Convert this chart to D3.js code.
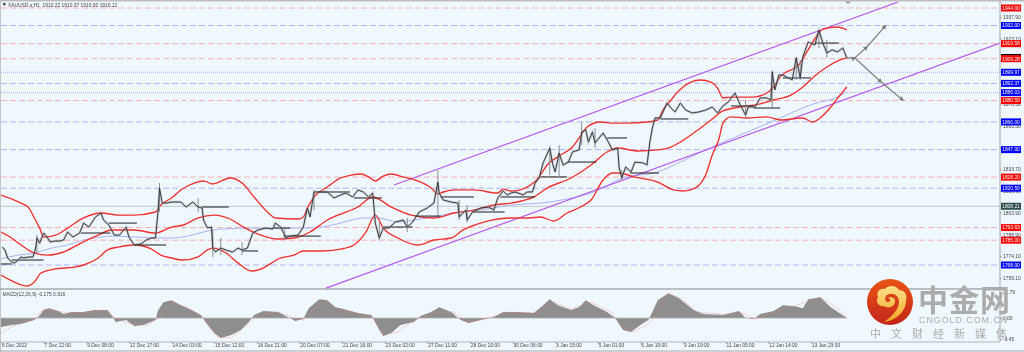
<!DOCTYPE html>
<html>
<head>
<meta charset="utf-8">
<script src="https://d3js.org/d3.v7.min.js"></script>
<style>
  html, body { margin: 0; padding: 0; background: #f0f8ff; overflow: hidden; }
  svg { display: block; filter: blur(0.35px); font-family: "Liberation Sans", sans-serif; }
</style>
</head>
<body>
<div id="chart"></div>
<script>
// Hardcoded data. x is an H1 bar number, y is a price
const closeBars = [1,3,5,8,10,13,15,17,21,24,26,27,29,32,34,37,40,44,47,50,54,59,62,66,71,75,77,81,85,89,94,96,100,105,109,113,116,118,119,121,124,128,135,139,144,148,151,152,155,158,159,161,165,169,174,178,181,185,189,193,199,204,206,210,214,217,223,227,230,232,235,240,245,250,255,259,264,268,272,276,279,280,281,284,287,291,296,302,305,309,314,320,325,328,329,332,338,343,344,349,350,354,360,366,370,373,377,380,383,386,392,395,399,401,404,407,409,412,414,416,419,422,426,429,434,436,439,441,444,446,452,456,459,463,464,466,469,473,476,482,485,487,489,491,495,500,503,506,510,514,519,524,529,534,538,542,546,551,555,559,561,566,570,575,578,579,581,584,587,594,597,600,602,606,611,614,617,620,624,628,632,635];
const closeVals = [1780.3,1778.2,1772.8,1770,1769.3,1771.4,1773.5,1772.8,1773.5,1773.5,1779.6,1786.5,1783,1789.9,1787.8,1783.7,1784.4,1784.4,1785.1,1790.6,1787.2,1789.9,1796.7,1794,1800.9,1803.6,1798.8,1795.4,1788.5,1788.5,1794,1787.2,1781.7,1782.4,1785.1,1786.5,1786.5,1805.6,1820.7,1810.4,1810.4,1811.1,1811.1,1807.7,1811.1,1807.7,1807,1798.8,1793.3,1794,1779.6,1776.9,1779.6,1778.2,1776.9,1779.6,1778.2,1779.6,1789.9,1792,1793.3,1792.6,1796.7,1794,1786.5,1787.8,1788.5,1794,1807,1800.9,1818,1818,1818,1813.9,1816,1817.3,1814.6,1819.4,1818,1814.6,1817.3,1807.7,1796.7,1786.5,1793.3,1793.3,1797.4,1798.8,1794,1797.4,1804.3,1807,1810.4,1824.8,1817.3,1812.5,1811.1,1810.4,1800.9,1805.6,1798.8,1804.3,1807,1807.7,1805.6,1813.9,1818.7,1816,1817.3,1818,1816,1818,1818,1824.1,1827.6,1837.9,1842,1848.1,1837.9,1831.7,1844.7,1836.5,1838.5,1845.4,1846.8,1859.1,1860.5,1852.2,1859.1,1851.5,1858.4,1852.2,1846.8,1848.1,1835.1,1827.6,1835.1,1831.7,1838.5,1837.9,1836.5,1851.5,1861.8,1868.7,1868.7,1878.9,1875.5,1872.8,1878.9,1874.1,1872.1,1872.8,1874.1,1876.2,1872.1,1876.9,1879.6,1885.8,1877.6,1870.7,1876.2,1876.2,1882.4,1882.4,1881,1900.2,1887.9,1898.1,1898.1,1894.7,1909.8,1896.1,1910.5,1920.7,1918.7,1928.9,1920,1913.2,1915.3,1913.9,1916.6,1909.8];

const wickBars = [27,119,148,159,165,181,213,235,284,305,328,344,350,412,419,436,446,466,559,579,597,600,614,620];
const wickHigh = [1788.5,1824.1,1813.9,1792,1786.5,1783.7,1793.3,1819.4,1797.4,1800.2,1833,1812.5,1809.1,1848.8,1850.2,1865.9,1861.8,1833,1881,1901.5,1910.5,1908.4,1928.9,1922.1];
const wickLow = [1776.2,1804.3,1804.3,1773.4,1774.8,1774.8,1785.1,1805.6,1785.1,1790.6,1802.2,1798.8,1797.4,1829.6,1828.3,1850.2,1848.1,1826.2,1868.7,1875.5,1894.7,1894.7,1916.6,1909.8];

const stepStart = [0,8,60,81,100,151,181,205,212,238,265,287,311,330,354,375,405,425,455,472,495,548,565,587,611];
const stepEnd = [8,32,82,102,124,171,193,217,240,262,286,309,330,355,378,401,425,447,470,494,516,565,585,608,629];
const stepPrice = [1768.7,1771.4,1789.9,1796.7,1781.7,1807.7,1777.6,1793.3,1787.8,1818,1813.9,1794,1801.5,1814.6,1804.3,1814.6,1828.3,1838.5,1855,1831,1868,1876.9,1875.5,1896.1,1920];

const upperBars = [0,8,15,21,25,29,32,41,50,62,75,88,100,116,120,128,135,145,152,159,172,181,190,200,206,223,227,230,235,245,255,263,270,276,281,287,293,302,313,323,328,332,341,355,373,377,383,395,404,410,420,429,434,440,450,460,470,485,493,497,503,508,518,525,533,538,542,548,565,576,580,585,600,605,613,617,628,635];
const upperVals = [1815.9,1813.2,1810.4,1807,1800.2,1793.3,1787.2,1788.5,1793.3,1800.2,1803.6,1802.2,1802.2,1804.3,1809.1,1813.9,1819.4,1824.1,1825.5,1823.5,1827.6,1824.1,1814.6,1804.3,1800.2,1799.5,1800.9,1807,1814.6,1821.4,1827.6,1829.6,1830.3,1828.3,1825.5,1828.9,1830.3,1828.3,1825.5,1820.7,1816.6,1818,1819.4,1819.4,1817.3,1820,1818.7,1821.4,1828.3,1836.5,1843.3,1848.8,1855,1862.5,1865.9,1865.2,1865.2,1865.9,1867.3,1874.2,1881,1886.5,1893.3,1894.7,1893.3,1889.2,1882.4,1883,1883,1886.5,1889.9,1896.8,1906.3,1913.9,1925.5,1929.6,1931,1929];

const middleBars = [0,8,15,25,35,47,60,73,83,100,116,128,137,148,160,172,182,195,208,220,232,245,255,268,279,293,308,325,340,355,370,383,400,410,428,443,455,463,478,493,503,510,523,533,542,555,570,580,593,602,610,620,630,635];
const middleVals = [1790.6,1786.5,1781.7,1776.2,1774.8,1776.9,1783,1788.5,1792,1792,1789.9,1794,1795.4,1800.2,1802.2,1799.5,1794,1788.5,1785.8,1786.5,1790.6,1798.8,1802.9,1807.7,1814.6,1807.7,1802.2,1800.2,1803.6,1805.6,1809.1,1810.4,1814.6,1820.7,1827.6,1836.5,1845.4,1848.1,1846.1,1846.8,1848.8,1852.2,1860.4,1867.3,1873.5,1876.2,1878.3,1881,1884.4,1889.9,1896.8,1903.6,1908.4,1909.8];

const lowerBars = [0,10,20,25,30,40,55,62,73,80,88,100,113,120,128,137,148,155,159,169,178,188,195,203,208,220,227,240,255,265,274,281,287,298,313,325,338,347,360,373,383,395,405,415,425,435,443,452,459,464,475,493,505,512,521,529,534,539,542,548,560,575,585,602,609,615,623,630,635];
const lowerVals = [1761.1,1756.3,1753.6,1756.3,1762.5,1765.2,1766.6,1768,1772.8,1778.3,1780.3,1781.7,1778.9,1774.8,1772.8,1771.4,1773.5,1778.3,1779.6,1776.2,1769.3,1763.9,1765.2,1769.3,1772.1,1774.8,1777.6,1777.6,1778.9,1781.7,1790.6,1802.2,1793.3,1786.5,1781.7,1785.1,1786.5,1792,1796.7,1799.5,1800.2,1800.2,1800.9,1798.1,1803.6,1807.7,1812.5,1826.2,1831,1831,1828.3,1824.8,1819.4,1818.7,1820.7,1829.6,1843.3,1854.3,1865.2,1869.4,1868.7,1869.4,1867.3,1868.7,1865.9,1868.7,1876.2,1884.4,1889.9];

const maBars = [0,13,25,38,50,62,75,85,100,118,128,140,152,165,190,215,232,245,255,263,272,283,298,310,328,343,360,383,405,425,445,467,493,510,529,548,578,610,628,635];
const maVals = [1772.1,1774.8,1776.2,1779.6,1781.7,1785.1,1787.2,1787.8,1787.2,1786.5,1786.5,1787.8,1790.6,1792.6,1793.3,1793.3,1793.3,1794.7,1796.7,1798.8,1800.2,1800.2,1797.4,1798.8,1801.5,1804.3,1805.6,1809.1,1810.4,1813.2,1818,1827.6,1831.7,1838.5,1846.8,1854.3,1865.9,1878.3,1883,1886.5];

const histBars = [0,8,15,25,28,32,36,43,47,53,62,70,80,84,86,94,100,107,116,118,122,128,135,143,150,154,160,165,173,180,186,190,197,208,215,221,227,231,239,245,251,255,268,278,280,284,287,293,300,310,315,323,329,338,345,351,360,370,377,388,400,407,412,418,428,434,439,445,455,461,467,473,480,486,489,493,501,509,520,527,542,554,559,565,570,580,587,596,602,606,615,623,635];
const histVals = [-4.05,-3.15,-2.7,-0.9,0.45,3.6,4.5,3.15,1.8,2.7,2.7,3.6,3.6,0.45,-1.8,-0.9,-3.6,-3.15,-0.9,3.6,7.2,8.1,5.85,3.6,1.35,-2.25,-6.75,-9,-7.65,-5.4,-1.8,1.35,3.15,2.7,0.45,-1.35,-0.45,4.5,8.55,8.1,4.95,4.5,2.25,1.35,-0.9,-5.4,-8.1,-6.75,-3.15,-1.8,0.9,2.7,4.95,2.7,-0.9,-2.25,-0.9,0.45,2.7,2.7,2.25,5.85,8.55,5.85,3.6,4.95,8.1,5.85,2.7,0,-5.4,-6.3,-3.15,-0.9,2.7,8.1,11.25,9,3.6,1.8,1.35,3.15,0,-0.45,1.8,3.15,5.85,5.4,4.5,8.55,9.45,4.95,0];

const signalBars = [0,8,17,26,32,43,50,65,77,86,100,110,118,128,140,152,163,173,182,193,208,220,227,236,242,254,268,279,287,298,310,328,340,351,368,380,403,415,428,443,458,467,475,488,501,510,523,542,557,566,580,598,615,628,635];
const signalVals = [-6.75,-4.05,-1.8,0,4.05,3.15,2.25,2.7,3.6,0,-3.15,-3.15,0,7.2,4.95,0.45,-8.55,-9,-4.5,1.35,2.7,0,-0.9,4.95,8.55,3.6,2.25,0.45,-7.65,-6.3,-0.9,2.7,2.7,-2.25,0.45,2.7,2.25,7.2,4.05,7.2,2.7,-4.05,-6.3,-1.8,11.25,9,2.7,1.8,2.25,-0.45,2.7,5.85,9.45,4.5,0];

const redLevels = [1944, 1919.58, 1909.28, 1880.59, 1828.2, 1793.63, 1785];
const blueLevels = [1932, 1892.37, 1866, 1847, 1820.59, 1768];
const dottedLevels = [1899.97, 1886.03];
const greyLevel = 1808.21;

const priceTicks = [1937.9, 1923.1, 1908.3, 1893.5, 1878.5, 1863.5, 1848.5, 1833.7, 1818.9, 1803.9, 1788.9, 1774.1, 1759.1];
const macdTicks = [11.79, 0, -9.45];
const timeLabels = ["6 Dec 2022","7 Dec 22:00","9 Dec 08:00","12 Dec 17:00","14 Dec 03:00","15 Dec 12:00","16 Dec 21:00","20 Dec 07:00","21 Dec 16:00","23 Dec 02:00","27 Dec 11:00","28 Dec 20:00","30 Dec 06:00","3 Jan 15:00","5 Jan 01:00","6 Jan 10:00","9 Jan 19:00","11 Jan 05:00","12 Jan 14:00","13 Jan 23:00"];
const timeBars = timeLabels.map((d, i) => i * 32);

// channel lines and the two scenario arrows, [bar, price]
const channelUpper = [[295, 1822.8], [673.5, 1948.1]];
const channelLower = [[244, 1752.2], [750, 1920]];
const arrowUp = [[635, 1909.8], [641, 1909.8], [650, 1917.3], [664, 1931.7]];
const arrowDown = [[641, 1909.8], [660.7, 1893.3], [677, 1881]];

const width = 1024, height = 352;
const plotRight = 1000, mainBottom = 289, macdBottom = 342;

const svg = d3.select("#chart").append("svg")
    .attr("width", width)
    .attr("height", height);

const x = d3.scaleLinear().domain([0, 750]).range([1, plotRight]);
const y = d3.scaleLinear().domain([1944, 1768]).range([8, 265]);
const yMacd = d3.scaleLinear().domain([11.79, -9.45]).range([292, 339]);

const defs = svg.append("defs");
defs.append("clipPath").attr("id", "mainClip").append("rect")
    .attr("x", 1).attr("y", 2).attr("width", plotRight - 1).attr("height", mainBottom - 2);
defs.append("marker").attr("id", "head")
    .attr("viewBox", "0 0 6 6").attr("refX", 4).attr("refY", 3)
    .attr("markerWidth", 4).attr("markerHeight", 4).attr("orient", "auto")
    .append("path").attr("d", "M0,0L6,3L0,6Z").attr("fill", "#808080");
const logoRed = defs.append("linearGradient").attr("id", "logoRed")
    .attr("x1", 0).attr("y1", 0).attr("x2", 0).attr("y2", 1);
logoRed.append("stop").attr("offset", "0%").attr("stop-color", "#ea5414");
logoRed.append("stop").attr("offset", "100%").attr("stop-color", "#c3241c");
const logoGold = defs.append("linearGradient").attr("id", "logoGold")
    .attr("x1", 0).attr("y1", 0).attr("x2", 0).attr("y2", 1);
logoGold.append("stop").attr("offset", "0%").attr("stop-color", "#fde08a");
logoGold.append("stop").attr("offset", "100%").attr("stop-color", "#f5a623");

svg.append("rect").attr("width", width).attr("height", height).attr("fill", "#f0f8ff");

const main = svg.append("g").attr("clip-path", "url(#mainClip)");

function levels(list, color, dash, w) {
    main.append("g").selectAll("line").data(list).enter().append("line")
        .attr("x1", 1).attr("x2", plotRight)
        .attr("y1", d => y(d)).attr("y2", d => y(d))
        .attr("stroke", color)
        .attr("stroke-width", w)
        .attr("stroke-dasharray", dash);
}
levels(redLevels, "#f8b0b4", "6,3", 1);
levels(blueLevels, "#b0b4fb", "6,3", 1);
levels(dottedLevels, "#aab0ff", "1,1", 1);
levels([greyLevel], "#bcc8c8", null, 1);

const line = d3.line().x(d => x(d[0])).y(d => y(d[1]));
const smooth = d3.line().x(d => x(d[0])).y(d => y(d[1])).curve(d3.curveMonotoneX);

main.append("path").datum(d3.zip(maBars, maVals))
    .attr("fill", "none").attr("stroke", "#a9b4f5").attr("stroke-width", 1).attr("d", smooth);

[channelUpper, channelLower].forEach(c => {
    main.append("path").datum(c)
        .attr("fill", "none").attr("stroke", "#b45be8").attr("stroke-width", 1.2).attr("d", line);
});

[[upperBars, upperVals], [middleBars, middleVals], [lowerBars, lowerVals]].forEach(b => {
    main.append("path").datum(d3.zip(b[0], b[1]))
        .attr("fill", "none").attr("stroke", "#f03030").attr("stroke-width", 1.35).attr("d", smooth);
});

main.append("g").selectAll("line").data(d3.zip(stepStart, stepEnd, stepPrice)).enter().append("line")
    .attr("x1", d => x(d[0])).attr("x2", d => x(d[1]))
    .attr("y1", d => y(d[2])).attr("y2", d => y(d[2]))
    .attr("stroke", "#1c1c1c").attr("stroke-width", 1);

main.append("g").selectAll("line").data(d3.zip(wickBars, wickHigh, wickLow)).enter().append("line")
    .attr("x1", d => x(d[0])).attr("x2", d => x(d[0]))
    .attr("y1", d => y(d[1])).attr("y2", d => y(d[2]))
    .attr("stroke", "#8a8f92").attr("stroke-width", 1);

const closes = d3.zip(closeBars, closeVals);
main.append("path").datum(closes)
    .attr("fill", "none").attr("stroke", "#9a9ea2").attr("stroke-width", 2.4).attr("opacity", 0.45).attr("d", line);
main.append("path").datum(closes)
    .attr("fill", "none").attr("stroke", "#2c2c2c").attr("stroke-width", 0.9).attr("d", line);

[arrowUp, arrowDown].forEach(a => {
    main.append("path").datum(a)
        .attr("fill", "none").attr("stroke", "#808080").attr("stroke-width", 1.2)
        .attr("marker-mid", "url(#head)").attr("marker-end", "url(#head)")
        .attr("d", line);
});

// MACD pane
svg.append("path").datum(d3.zip(histBars, histVals))
    .attr("fill", "#8e8e8e")
    .attr("d", d3.area().x(d => x(d[0])).y0(yMacd(0)).y1(d => yMacd(d[1])));
svg.append("line")
    .attr("x1", 1).attr("x2", x(635)).attr("y1", yMacd(0)).attr("y2", yMacd(0))
    .attr("stroke", "#b8b8b8").attr("stroke-width", 0.8);
svg.append("path").datum(d3.zip(signalBars, signalVals))
    .attr("fill", "none").attr("stroke", "#f08080").attr("stroke-width", 0.7).attr("stroke-dasharray", "1,1")
    .attr("d", d3.line().x(d => x(d[0])).y(d => yMacd(d[1])));

// frame
svg.append("rect").attr("x", 0).attr("y", 0).attr("width", width).attr("height", 1.5).attr("fill", "#bdbdbd");
svg.append("rect").attr("x", 0).attr("y", 0).attr("width", 1).attr("height", height).attr("fill", "#c4c4c4");
svg.append("line").attr("x1", 0).attr("x2", plotRight).attr("y1", mainBottom).attr("y2", mainBottom)
    .attr("stroke", "#858585").attr("stroke-width", 1);
svg.append("line").attr("x1", 0).attr("x2", plotRight).attr("y1", macdBottom).attr("y2", macdBottom)
    .attr("stroke", "#b4b4b4").attr("stroke-width", 1);
svg.append("line").attr("x1", plotRight).attr("x2", plotRight).attr("y1", 1).attr("y2", macdBottom)
    .attr("stroke", "#a8a8a8").attr("stroke-width", 1);
svg.append("line").attr("x1", 0).attr("x2", width).attr("y1", 351).attr("y2", 351)
    .attr("stroke", "#a8a8a8").attr("stroke-width", 1);
svg.append("path").attr("d", "M845,1.5L851,1.5L848,4Z").attr("fill", "#9a9a9a");

// axes
function styleAxis(g) {
    g.select(".domain").remove();
    g.selectAll("line").attr("stroke", "#666").attr("stroke-width", 0.6);
    g.selectAll("text").attr("fill", "#444").attr("font-size", 4.9);
}
svg.append("g")
    .attr("transform", `translate(${plotRight},0)`)
    .call(d3.axisRight(y).tickValues(priceTicks).tickSize(1.5).tickPadding(1.5).tickFormat(d => d.toFixed(2)))
    .call(styleAxis);
svg.append("g")
    .attr("transform", `translate(${plotRight},0)`)
    .call(d3.axisRight(yMacd).tickValues(macdTicks).tickSize(1.5).tickPadding(1.5).tickFormat(d => d.toFixed(2)))
    .call(styleAxis);
svg.append("g")
    .attr("transform", `translate(0,${macdBottom})`)
    .call(d3.axisBottom(x).tickValues(timeBars).tickSize(1.5).tickPadding(0.5).tickFormat((d, i) => timeLabels[i]))
    .call(styleAxis)
    .selectAll("text").attr("text-anchor", "start").attr("dx", 0.5);

// price tags on the right axis
function tags(list, color) {
    const g = svg.append("g").selectAll("g").data(list).enter().append("g")
        .attr("transform", d => `translate(${plotRight + 1},${y(d)})`);
    g.append("rect").attr("x", 0).attr("y", -3.5).attr("width", 20).attr("height", 7).attr("fill", color);
    g.append("text").attr("x", 10).attr("y", 1.8).attr("text-anchor", "middle")
        .attr("font-size", 4.9).attr("fill", "#f4f4f4").text(d => d.toFixed(2));
}
tags([closeVals[closeVals.length - 1] + 0.32], "#000000");
tags(redLevels, "#ff0000");
tags(blueLevels.concat(dottedLevels), "#0000ff");
tags([greyLevel], "#2f4f4f");

// captions
svg.append("path").attr("d", "M2.5,3.2L6,3.2L4.25,6Z").attr("fill", "#222");
svg.append("text").attr("x", 8).attr("y", 6.8).attr("font-size", 4.9).attr("fill", "#444")
    .attr("xml:space", "preserve").text("XAUUSD.s,H1  1910.22 1910.37 1910.00 1910.12");
svg.append("text").attr("x", 2.5).attr("y", 296).attr("font-size", 4.9).attr("fill", "#444")
    .text("MACD(12,26,9) -0.175 0.916");

// watermark
const logo = svg.append("g").attr("transform", "translate(890,302)");
logo.append("circle").attr("r", 23).attr("fill", "url(#logoRed)");
logo.append("path").attr("fill", "url(#logoGold)")
    .attr("d", "M-6,20C8,18 16,8 16,-1C18,-8 14,-12 9,-12C6,-17 -2,-17 -5,-13C-11,-14 -14,-9 -12,-5C-15,0 -11,5 -6,4C-2,7 4,5 5,0C6,-4 1,-6 -2,-4C1,-3 1,0 -2,0C-5,0 -6,-4 -3,-7C2,-10 9,-7 9,0C9,8 0,16 -6,20Z");
svg.append("text").attr("x", 918).attr("y", 311)
    .attr("font-family", "Noto Sans CJK SC").attr("font-weight", 700).attr("font-size", 30)
    .attr("letter-spacing", 1).attr("fill", "#ababab").text("中金网");
svg.append("text").attr("x", 919).attr("y", 323)
    .attr("font-size", 9).attr("letter-spacing", 0.9).attr("fill", "#ababab").text("CNGOLD.COM.CN");
svg.append("text").attr("x", 870).attr("y", 338)
    .attr("font-family", "Noto Sans CJK SC").attr("font-size", 11)
    .attr("letter-spacing", 10).attr("fill", "#ababab").text("中文财经新媒体");
</script>
</body>
</html>
